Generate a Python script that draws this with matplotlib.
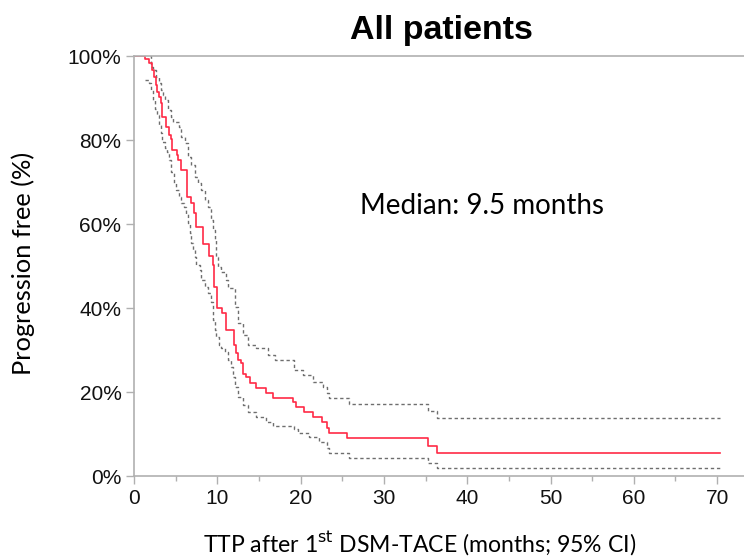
import matplotlib
matplotlib.use("Agg")
import matplotlib.pyplot as plt
from matplotlib.ticker import MultipleLocator, FuncFormatter

# ---- data (months, % progression free) ----
km_t = [0, 1.35, 1.85, 2.15, 2.45, 2.65, 2.8, 3.0, 3.3, 3.4, 3.8, 3.9, 4.2, 4.4, 4.6,
        5.2, 5.3, 5.6, 6.4, 6.8, 7.2, 7.5, 8.3, 9.0, 9.5, 9.6, 10.0, 10.6, 11.1,
        12.0, 12.3, 12.5, 12.8, 13.1, 13.5, 13.9, 14.7, 15.8, 16.7, 19.1, 19.4,
        20.4, 21.5, 22.6, 23.2, 23.4, 25.6, 35.3, 36.4, 70.3]
km_s = [100, 99.3, 98.3, 96.7, 94.9, 93.1, 91.5, 90.3, 88.7, 85.5, 84.8, 83.2, 81.2, 80.2, 77.6,
        76.4, 75.2, 72.9, 66.5, 65.0, 62.6, 59.4, 55.2, 52.4, 50.2, 45.1, 39.9, 38.7, 34.8,
        31.2, 29.2, 27.6, 26.8, 24.4, 23.5, 22.1, 20.9, 19.7, 18.6, 17.7, 16.5,
        15.3, 14.0, 12.8, 11.4, 10.2, 9.0, 7.2, 5.4, 5.4]

up_t = [1.9, 2.1, 2.3, 2.6, 3.0, 3.3, 3.5, 3.7, 4.1, 4.4, 4.7, 5.4, 5.7, 6.1, 6.5,
        6.9, 7.3, 7.7, 8.1, 8.5, 8.9, 9.3, 9.5, 9.7, 9.9, 10.1, 10.5, 11.1, 11.3,
        12.1, 12.5, 13.1, 13.7, 14.7, 16.1, 16.9, 19.2, 20.3, 21.5, 22.7, 23.2,
        23.4, 25.8, 35.3, 36.4, 70.3]
up_s = [100, 97.5, 96.7, 95.1, 93.5, 91.9, 90.7, 89.5, 87.1, 85.5, 84.4, 83.2, 80.8, 79.2, 76.0,
        74.0, 71.3, 69.7, 68.1, 65.7, 64.1, 61.0, 58.6, 56.2, 52.2, 49.8, 48.6, 46.7, 44.7,
        40.3, 36.4, 33.6, 31.2, 30.4, 28.8, 27.7, 25.2, 24.0, 22.5, 21.3, 19.8,
        18.6, 17.1, 15.5, 13.7, 13.7]

lo_t = [1.3, 1.8, 2.0, 2.3, 2.5, 2.8, 3.0, 3.2, 3.4, 3.7, 4.0, 4.2, 4.5, 4.8, 5.1,
        5.4, 5.7, 6.0, 6.2, 6.5, 6.7, 6.9, 7.1, 7.3, 7.5, 7.9, 8.1, 8.5, 8.9, 9.3,
        9.5, 9.7, 9.9, 10.2, 10.5, 10.9, 11.3, 11.7, 11.9, 12.1, 12.5, 13.1, 13.7,
        14.7, 15.9, 16.7, 19.2, 19.7, 21.0, 22.2, 23.2, 23.4, 25.8, 35.3, 36.4, 70.3]
lo_s = [94.4, 93.5, 91.9, 89.5, 87.5, 86.0, 83.6, 81.6, 79.6, 78.0, 77.2, 75.2, 72.5, 69.7, 68.1,
        66.5, 64.9, 64.1, 62.5, 60.2, 57.8, 55.4, 53.8, 52.2, 50.2, 49.0, 46.7, 45.1, 43.5, 41.5,
        37.1, 34.8, 33.2, 31.2, 30.4, 29.6, 27.6, 26.0, 23.6, 21.3, 18.9, 16.9, 15.3,
        14.0, 12.9, 12.0, 11.1, 10.2, 9.2, 8.2, 6.6, 5.4, 4.4, 3.2, 2.0, 2.0]

x_ticks = [0, 10, 20, 30, 40, 50, 60, 70]
y_ticks = [0, 20, 40, 60, 80, 100]

W, H = 744, 559
fig = plt.figure(figsize=(W / 100, H / 100), dpi=100)
ax = fig.add_axes([134 / W, (H - 476) / H, (W - 134) / W, 420 / H])

gray = "#6e6e6e"
ax.step(up_t, up_s, where="post", color=gray, lw=1.0, dashes=(2.4, 2.0))
ax.step(lo_t, lo_s, where="post", color=gray, lw=1.0, dashes=(2.4, 2.0))
ax.step(km_t, km_s, where="post", color="#ff2a45", lw=1.2)

ax.set_xlim(0, (W - 134) / 8.33)
ax.set_ylim(0, 100)
ax.set_xticks(x_ticks)
ax.xaxis.set_minor_locator(MultipleLocator(5))
ax.set_yticks(y_ticks)
ax.yaxis.set_major_formatter(FuncFormatter(lambda v, p: f"{int(v)}%"))

spc = "#b0b0b0"
for s in ["left", "bottom", "top"]:
    ax.spines[s].set_color(spc)
    ax.spines[s].set_linewidth(1.2)
ax.spines["right"].set_visible(False)
ax.tick_params(axis="both", which="major", direction="out", length=6, width=1.0,
               color=spc, labelsize=15, labelcolor="#111111", pad=3)
ax.tick_params(axis="x", which="minor", direction="out", length=3.5, width=1.0, color=spc)
for lab in ax.get_xticklabels() + ax.get_yticklabels():
    lab.set_fontfamily("Liberation Sans")

fig.text(441 / W, 1 - 30 / H, "All patients", ha="center", va="center",
         fontsize=24.5, fontweight="bold", family="Liberation Sans", color="black")
fig.text(482 / W, 1 - 206 / H, "Median: 9.5 months", ha="center", va="center",
         fontsize=20, family="Lato", color="black")
fig.text(420 / W, 1 - 543 / H, "TTP after 1$^{\\mathrm{st}}$ DSM-TACE (months; 95% CI)",
         ha="center", va="center", fontsize=16.6, family="Lato", color="black")
fig.text(23 / W, 1 - 263 / H, "Progression free (%)", ha="center", va="center",
         rotation=90, fontsize=18.3, family="Lato", color="black")

fig.savefig("out.png", dpi=100)
